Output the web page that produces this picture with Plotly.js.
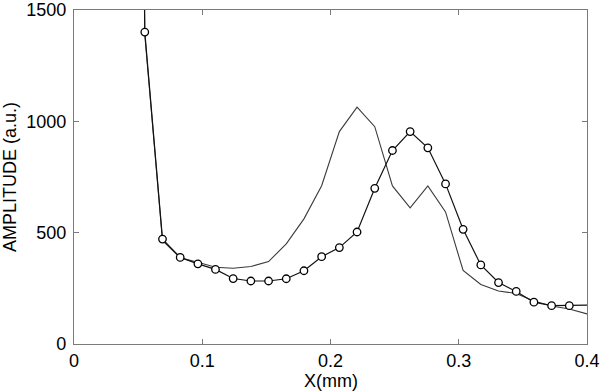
<!DOCTYPE html>
<html>
<head>
<meta charset="utf-8">
<script src="https://cdn.plot.ly/plotly-3.0.1.min.js"></script>
<style>html,body{margin:0;padding:0;background:#fff;}#chart{width:600px;height:391px;}</style>
</head>
<body>
<div id="chart"></div>
<script>
// x positions (mm)
const xValues = [0.0414, 0.0552, 0.0690, 0.0828, 0.0966, 0.1103, 0.1241, 0.1379, 0.1517, 0.1655, 0.1793,
  0.1931, 0.2069, 0.2207, 0.2345, 0.2483, 0.2621, 0.2759, 0.2897, 0.3034, 0.3172,
  0.3310, 0.3448, 0.3586, 0.3724, 0.3862, 0.4000];
// series with circle markers
const markedAmplitude = [9000, 1401, 471, 389, 360, 335, 294, 283, 283, 293, 329,
  392, 433, 503, 699, 869, 954, 881, 719, 515, 355,
  276, 236, 188, 172, 172, 175];
// plain line series
const plainAmplitude = [9000, 1390, 465, 387, 367, 345, 340, 348, 370, 450, 562,
  711, 954, 1064, 976, 710, 611, 710, 593, 330, 267,
  238, 227, 193, 171, 157, 135];
const xTicks = [0, 0.1, 0.2, 0.3, 0.4];
const xTickText = ['0', '0.1', '0.2', '0.3', '0.4'];
const yTicks = [0, 500, 1000, 1500];
const yTickText = ['0', '500', '1000', '1500'];
const xTitle = 'X(mm)';
const yTitle = 'AMPLITUDE (a.u.)';

const markerSizes = xValues.map((x, i) => (i === 0 || x >= 0.399) ? 0 : 7.5);

const font = {family: 'Liberation Sans, Arial, sans-serif', size: 18, color: '#000'};
const axisCommon = {
  showline: true, linecolor: '#7a7a7a', linewidth: 1.2, mirror: 'ticks',
  ticks: 'inside', ticklen: 5, tickcolor: '#7a7a7a', tickwidth: 1,
  showgrid: false, zeroline: false, tickfont: font, fixedrange: true,
  ticklabeloverflow: 'allow'
};

const data = [
  {
    x: xValues, y: plainAmplitude, type: 'scatter', mode: 'lines',
    line: {color: '#3a3a3a', width: 1.1}, hoverinfo: 'skip'
  },
  {
    x: xValues, y: markedAmplitude, type: 'scatter', mode: 'lines+markers',
    line: {color: '#111', width: 1.2},
    marker: {symbol: 'circle', size: markerSizes, color: '#ffffff', opacity: 1,
             line: {color: '#000', width: 1.3}},
    hoverinfo: 'skip'
  }
];

const layout = {
  width: 600, height: 391,
  margin: {l: 73.5, r: 13, t: 10, b: 46.5},
  paper_bgcolor: '#fff', plot_bgcolor: '#fff',
  showlegend: false,
  font: font,
  xaxis: Object.assign({}, axisCommon, {
    range: [0, 0.4], tickvals: xTicks, ticktext: xTickText,
    ticklabelstandoff: 0
  }),
  yaxis: Object.assign({}, axisCommon, {
    range: [0, 1500], tickvals: yTicks, ticktext: yTickText,
    ticklabelstandoff: 3,
    title: {text: yTitle, font: font, standoff: 4}
  }),
  annotations: [{
    text: xTitle, xref: 'paper', yref: 'paper', x: 0.5, y: 0,
    xanchor: 'center', yanchor: 'top', yshift: -25, showarrow: false, font: font
  }]
};

Plotly.newPlot('chart', data, layout, {staticPlot: true, displayModeBar: false});
</script>
</body>
</html>
